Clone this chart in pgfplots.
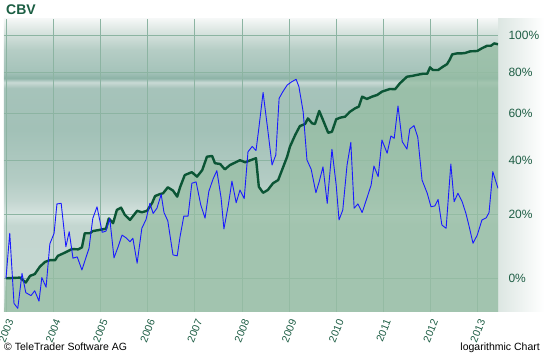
\documentclass[border=0pt]{standalone}
\usepackage{pgfplots}
\pgfplotsset{compat=1.18}
\usepackage{pgfplotstable}
\usepackage{fontspec}
\setmainfont{Liberation Sans}
\definecolor{titlegreen}{HTML}{1B5E43}
\definecolor{tickgreen}{HTML}{1E5E45}
\definecolor{gridgreen}{HTML}{8CB4A2}
\definecolor{linegreen}{HTML}{0B5535}
\definecolor{fillgreen}{HTML}{97BEA4}
\definecolor{bg01}{HTML}{C6D8D2}
\definecolor{bg02}{HTML}{C3D6D0}
\definecolor{bg03}{HTML}{D6E4E0}
\definecolor{bg04}{HTML}{B3CCC4}
\definecolor{bg05}{HTML}{A2C1B7}
\definecolor{bg06}{HTML}{A6C3BA}
\definecolor{bg07}{HTML}{C9DAD5}
\definecolor{bg08}{HTML}{8DB3A7}
\definecolor{bg09}{HTML}{A5C3BA}
\definecolor{bg10}{HTML}{B5CDC5}
\definecolor{bg11}{HTML}{DCE6E2}
\definecolor{bg12}{HTML}{F4F7F6}
\definecolor{cbvblue}{HTML}{1A1AFF}
\pgfdeclareverticalshading{plotbg}{100bp}{color(0bp)=(bg01); color(25bp)=(bg01); color(39.8bp)=(bg02); color(41.6bp)=(bg03); color(44bp)=(bg02); color(47.5bp)=(bg04); color(56.1bp)=(bg05); color(63.2bp)=(bg06); color(64.2bp)=(bg07); color(64.9bp)=(bg08); color(66bp)=(bg09); color(69.7bp)=(bg10); color(73.1bp)=(bg11); color(75bp)=(bg12); color(100bp)=(bg12)}

\pgfplotstableread{
t p
2003.00 0.0
2003.30 0.2
2003.42 -1.2
2003.51 0.7
2003.61 1.2
2003.72 3.4
2003.83 4.8
2003.93 5.3
2004.04 5.3
2004.10 6.6
2004.25 7.6
2004.40 8.7
2004.53 8.6
2004.61 9.2
2004.67 13.7
2004.78 13.7
2004.84 14.4
2004.99 14.8
2005.12 15.2
2005.18 18.6
2005.27 17.0
2005.35 21.5
2005.44 22.3
2005.52 19.8
2005.63 18.1
2005.78 21.2
2005.88 20.7
2005.99 21.2
2006.10 24.0
2006.16 26.4
2006.26 27.1
2006.33 27.4
2006.43 29.6
2006.54 28.4
2006.63 26.2
2006.69 29.6
2006.79 34.2
2006.94 35.3
2007.05 33.6
2007.16 36.1
2007.26 41.4
2007.37 41.7
2007.43 38.8
2007.54 38.5
2007.64 36.4
2007.75 38.1
2007.96 40.0
2008.07 39.2
2008.30 40.8
2008.36 29.8
2008.45 27.6
2008.55 28.6
2008.66 31.1
2008.77 32.3
2008.96 41.4
2009.02 45.5
2009.13 50.4
2009.23 54.3
2009.34 55.2
2009.40 57.7
2009.49 55.5
2009.55 55.2
2009.64 61.1
2009.72 57.0
2009.83 51.4
2009.91 51.8
2010.00 57.3
2010.08 58.0
2010.19 58.5
2010.29 60.7
2010.40 62.3
2010.48 63.1
2010.55 67.8
2010.65 66.7
2010.76 67.8
2010.87 68.6
2010.97 70.2
2011.14 71.5
2011.25 71.4
2011.35 74.3
2011.50 77.6
2011.61 78.0
2011.71 78.5
2011.84 79.1
2011.93 79.1
2011.99 82.4
2012.05 81.0
2012.16 81.0
2012.26 82.7
2012.35 84.1
2012.41 86.6
2012.46 89.3
2012.56 89.8
2012.65 89.8
2012.73 90.0
2012.84 90.9
2012.99 91.1
2013.09 92.6
2013.20 94.0
2013.28 94.0
2013.35 95.3
2013.43 94.8
}\benchdata

\pgfplotstableread{
t p
2003.00 0.0
2003.08 13.7
2003.17 -6.9
2003.25 -8.2
2003.34 1.4
2003.42 -4.0
2003.53 -4.8
2003.61 -3.5
2003.70 -6.3
2003.76 0.2
2003.85 -2.5
2003.93 10.3
2004.02 13.7
2004.08 23.6
2004.17 23.8
2004.27 9.4
2004.34 14.2
2004.42 5.9
2004.51 6.3
2004.61 2.4
2004.70 6.3
2004.76 8.9
2004.84 18.6
2004.93 22.6
2005.04 14.0
2005.12 14.4
2005.20 18.6
2005.29 6.0
2005.37 9.1
2005.46 13.1
2005.54 12.3
2005.63 11.0
2005.69 12.1
2005.78 4.4
2005.88 15.3
2005.97 18.3
2006.05 23.8
2006.12 20.3
2006.20 22.1
2006.29 27.0
2006.35 20.6
2006.43 17.8
2006.54 6.9
2006.63 6.6
2006.69 12.6
2006.77 19.4
2006.86 19.4
2006.94 31.1
2007.03 31.6
2007.13 23.2
2007.22 18.7
2007.30 28.1
2007.39 32.7
2007.47 35.9
2007.56 25.7
2007.62 15.1
2007.71 22.9
2007.79 31.9
2007.88 24.0
2007.96 28.6
2008.05 25.5
2008.13 43.4
2008.22 45.6
2008.30 43.9
2008.36 53.3
2008.45 69.8
2008.55 52.6
2008.64 38.1
2008.72 42.1
2008.79 67.0
2008.87 70.2
2008.96 73.4
2009.06 75.1
2009.15 76.3
2009.21 72.6
2009.30 60.7
2009.38 40.1
2009.47 36.4
2009.57 27.6
2009.64 31.7
2009.72 37.4
2009.81 23.8
2009.91 44.4
2010.00 30.4
2010.06 18.1
2010.14 21.5
2010.23 38.1
2010.31 47.3
2010.38 22.1
2010.46 23.6
2010.55 20.6
2010.65 25.6
2010.74 30.4
2010.80 37.7
2010.89 33.6
2010.97 48.3
2011.08 42.8
2011.16 50.0
2011.23 49.0
2011.31 63.4
2011.40 47.6
2011.50 44.5
2011.56 53.0
2011.65 54.5
2011.73 49.4
2011.82 32.3
2011.93 27.4
2012.01 22.6
2012.09 22.9
2012.16 25.2
2012.24 16.4
2012.33 15.3
2012.43 38.5
2012.50 24.4
2012.58 27.4
2012.67 24.4
2012.75 20.3
2012.82 15.8
2012.90 10.5
2012.99 13.1
2013.09 18.1
2013.18 18.8
2013.24 20.6
2013.32 35.5
2013.43 29.2
}\cbvdata

\begin{document}
\begin{tikzpicture}
\useasboundingbox (0pt,0pt) rectangle (544pt,353pt);
\fill[white] (0pt,0pt) rectangle (544pt,353pt);
\shade[left color=bg11, right color=white] (498pt,41pt) rectangle (544pt,334pt);
\begin{axis}[
  at={(4pt,41pt)}, anchor=south west,
  width=494pt, height=293pt, scale only axis,
  xmin=2002.958, xmax=2013.430,
  ymin=-0.096, ymax=0.7387,
  axis background/.style={shade, shading=plotbg},
  axis line style={draw=none},
  major tick length=0pt,
  grid=major,
  grid style={color=gridgreen, line width=0.6pt},
  xtick={2003,2004,2005,2006,2007,2008,2009,2010,2011,2012,2013},
  xticklabels={2003,2004,2005,2006,2007,2008,2009,2010,2011,2012,2013},
  ytick={0,0.18232,0.33647,0.47000,0.58779,0.69315},
  yticklabels={0\%,20\%,40\%,60\%,80\%,100\%},
  yticklabel pos=right,
  /pgf/number format/assume math mode=true,
  yticklabel style={anchor=west, xshift=7pt, text=tickgreen, font=\fontsize{12}{12}\selectfont},
  xticklabel style={xshift=4.5pt, yshift=-8pt, rotate=68, anchor=east, text=tickgreen, font=\fontsize{10.5}{10.5}\selectfont, inner sep=0pt},
]
\addplot[fill=fillgreen, fill opacity=0.75, draw=none] table[x=t, y expr={ln(1+\thisrow{p}/100)}] {\benchdata} |- (axis cs:2002.958,-0.096) -- cycle;
\addplot[color=linegreen, line width=2.4pt, line join=round, no markers] table[x=t, y expr={ln(1+\thisrow{p}/100)}] {\benchdata};
\addplot[color=cbvblue, line width=0.9pt, line join=round, no markers] table[x=t, y expr={ln(1+\thisrow{p}/100)}] {\cbvdata};
\end{axis}
\node[anchor=north west, inner sep=0pt, text=titlegreen, font=\bfseries\fontsize{14}{14}\selectfont] at (6pt,348pt) {CBV};
\node[anchor=base west, inner sep=0pt, font=\fontsize{10.5}{10.5}\selectfont] at (4pt,2.5pt) {\textcopyright\ TeleTrader Software AG};
\node[anchor=base east, inner sep=0pt, font=\fontsize{10.5}{10.5}\selectfont] at (540pt,2.5pt) {logarithmic Chart};
\end{tikzpicture}
\end{document}
